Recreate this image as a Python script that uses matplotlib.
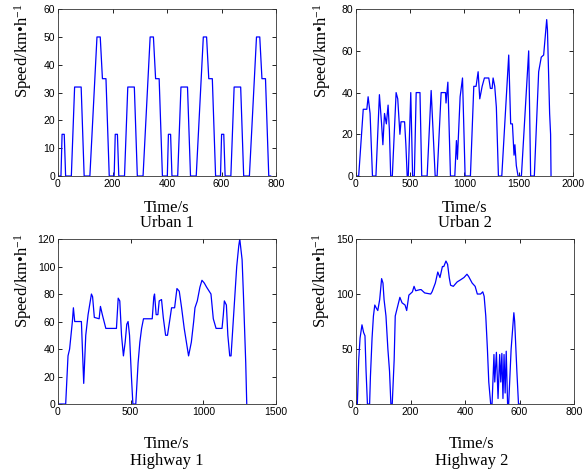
import numpy as np
import matplotlib
matplotlib.use('Agg')
import matplotlib.pyplot as plt

# ECE-15 style urban cycle, repeated 4 times
urban1_t = [0, 11, 15, 23, 28, 49, 61, 85, 96, 117, 143, 155, 163, 176, 188, 195]
urban1_v = [0, 0, 15, 15, 0, 0, 32, 32, 0, 0, 50, 50, 35, 35, 0, 0]
urban1_repeats = 4

urban2_t = [0, 25, 67, 100, 112, 130, 152, 184, 216, 236, 248, 263, 280, 296, 308, 320,
            335, 370, 385, 405, 415, 448, 460, 472, 482, 505, 522, 538, 555, 590, 606,
            656, 693, 730, 748, 785, 825, 830, 847, 871, 911, 926, 935, 960, 982, 1006,
            1055, 1086, 1107, 1126, 1141, 1163, 1184, 1224, 1239, 1255, 1264, 1279, 1294, 1313,
            1344, 1408, 1426, 1442, 1457, 1465, 1478, 1494, 1525, 1592, 1610,
            1644, 1684, 1708, 1730, 1758, 1765, 1785, 1794, 1798]
urban2_v = [0, 0, 32, 32, 38, 30, 0, 0, 39, 25, 15, 30, 25, 34, 22, 0,
            0, 40, 37, 20, 26, 26, 15, 0, 0, 40, 0, 0, 40, 40, 0,
            0, 41, 0, 0, 40, 40, 35, 45, 0, 0, 17, 8, 38, 47, 0,
            0, 43, 43, 50, 37, 43, 47, 47, 42, 42, 47, 43, 33, 0,
            0, 58, 25, 25, 10, 15, 5, 0, 0, 60, 0,
            0, 50, 57, 58, 75, 70, 30, 20, 0]

highway1_t = [0, 53, 69, 80, 99, 106, 115, 161, 177, 191, 207, 230, 238, 250, 283, 292, 305,
              329, 402, 414, 425, 437, 450, 462, 473, 482, 492, 505, 515, 535, 551, 563, 575,
              588, 648, 659, 664, 675, 687, 696, 712, 724, 740, 753, 770, 781, 802, 818, 834,
              850, 868, 898, 917, 933, 942, 958, 976, 990, 1006, 1022, 1052, 1068, 1087, 1128,
              1137, 1144, 1158, 1168, 1181, 1190, 1211, 1229, 1243, 1250, 1266, 1275, 1291, 1298]
highway1_v = [0, 0, 35, 40, 60, 70, 60, 60, 15, 50, 65, 80, 78, 63, 62, 71, 65,
              55, 55, 77, 75, 50, 35, 45, 58, 60, 50, 20, 0, 0, 30, 45, 55,
              62, 62, 78, 80, 65, 65, 75, 76, 63, 50, 50, 62, 70, 70, 84, 82,
              70, 55, 35, 45, 60, 70, 75, 85, 90, 88, 85, 80, 62, 55, 55,
              65, 75, 72, 50, 35, 35, 70, 100, 115, 120, 105, 80, 30, 0]

highway2_t = [0, 5, 10, 15, 22, 28, 33, 37, 42, 50, 53, 59, 64, 69, 75, 80, 87, 94, 99, 103,
              110, 117, 123, 128, 133, 140, 144, 152, 161, 169, 180, 186, 194, 207, 213, 219,
              235, 239, 252, 274, 279, 291, 300, 308, 317, 322, 330, 336, 342, 347, 357, 371,
              384, 396, 407, 413, 426, 437, 445, 457, 465, 470, 476, 482, 487, 494, 499, 506,
              509, 515, 521, 527, 531, 535, 539, 543, 547, 551, 556, 560, 569, 579, 582, 590,
              596, 600]
highway2_v = [0, 0, 40, 60, 72, 65, 62, 30, 0, 0, 25, 60, 80, 90, 87, 85, 95, 114, 110, 95,
              80, 50, 30, 0, 0, 40, 80, 88, 97, 92, 90, 85, 99, 102, 107, 103,
              104, 104, 101, 100, 102, 110, 120, 115, 125, 125, 130, 127, 115, 108, 107, 111,
              113, 115, 118, 116, 110, 107, 100, 100, 102, 98, 80, 50, 20, 0, 0, 45,
              20, 47, 5, 45, 20, 46, 5, 45, 10, 48, 0, 0, 50, 83, 75, 30,
              0, 0]

ylabel = 'Speed/km\u2022h$^{-1}$'

plt.rcParams['mathtext.fontset'] = 'custom'
plt.rcParams['mathtext.rm'] = 'Liberation Serif'
plt.rcParams['mathtext.it'] = 'Liberation Serif:italic'

fig = plt.figure(figsize=(5.88, 4.70), dpi=100)

# build the repeated urban 1 cycle
u1_t = np.concatenate([np.array(urban1_t) + i * urban1_t[-1] for i in range(urban1_repeats)])
u1_v = np.tile(urban1_v, urban1_repeats)

panels = [
    # t, v, rect, xmax, xstep, ymax, ystep, title, xlabel y, title y, centre x
    (u1_t, u1_v, [0.0986, 0.6255, 0.371, 0.355], 800, 200, 60, 10, 'Urban 1', -0.19, -0.28, 0.5),
    (urban2_t, urban2_v, [0.6054, 0.6255, 0.369, 0.355], 2000, 500, 80, 20, 'Urban 2', -0.19, -0.28, 0.5),
    (highway1_t, highway1_v, [0.0986, 0.1404, 0.371, 0.351], 1500, 500, 120, 20, 'Highway 1', -0.24, -0.345, 0.5),
    (highway2_t, highway2_v, [0.6054, 0.1404, 0.371, 0.351], 800, 200, 150, 50, 'Highway 2', -0.24, -0.345, 0.53),
]

for t, v, rect, xmax, xstep, ymax, ystep, title, xl_y, ti_y, cx in panels:
    ax = fig.add_axes(rect)
    ax.plot(t, v, color='#0000ff', linewidth=0.9)
    ax.set_xlim(0, xmax)
    ax.set_ylim(0, ymax)
    ax.set_xticks(np.arange(0, xmax + 1, xstep))
    ax.set_yticks(np.arange(0, ymax + 1, ystep))
    ax.tick_params(direction='in', top=True, right=True, length=3, width=0.6,
                   labelsize=7.5, pad=2)
    for lab in ax.get_xticklabels() + ax.get_yticklabels():
        lab.set_family('Liberation Sans')
    for s in ax.spines.values():
        s.set_linewidth(0.6)
        s.set_color('#333333')
    ax.text(cx, xl_y, 'Time/s', transform=ax.transAxes, ha='center', va='center',
            family='Liberation Serif', fontsize=12)
    ax.text(cx, ti_y, title, transform=ax.transAxes, ha='center', va='center',
            family='Liberation Serif', fontsize=12)
    ax.text(-0.158, 0.75, ylabel, transform=ax.transAxes, rotation=90, ha='center',
            va='center', family='Liberation Serif', fontsize=12)

fig.savefig('out.png', dpi=100)
